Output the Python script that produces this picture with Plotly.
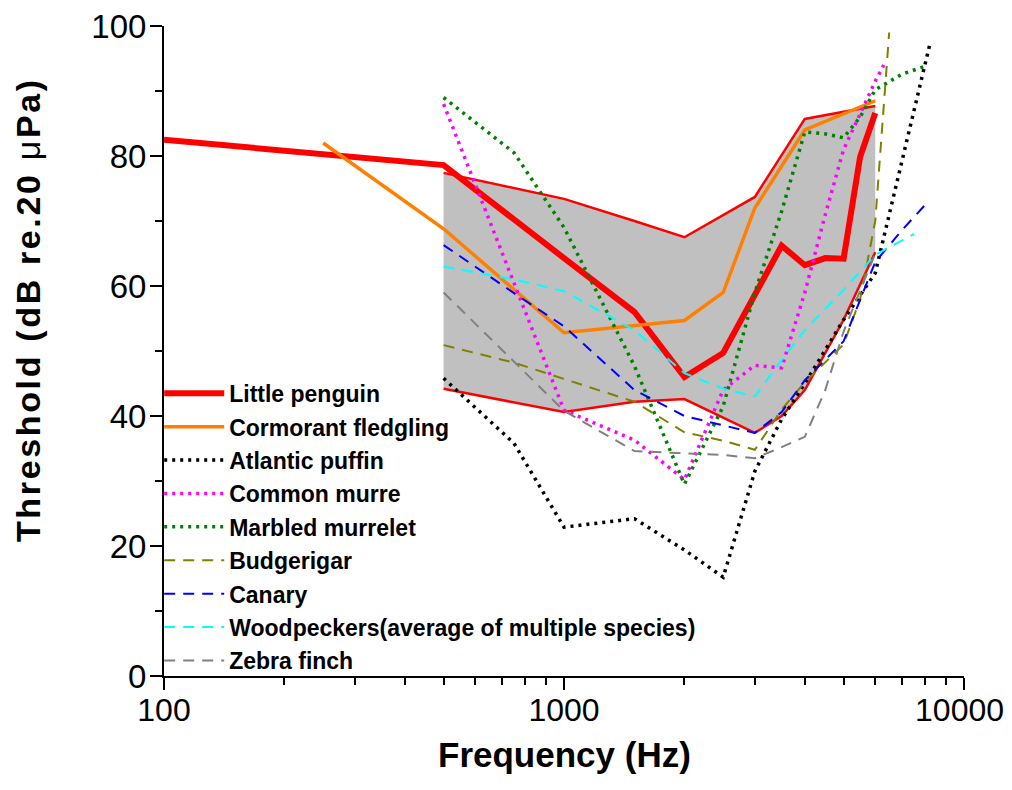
import plotly.graph_objects as go

# ---------------- data ----------------
penguin_f = [100, 500, 1000, 1500, 2000, 2500, 3500, 4000, 4500, 5000, 5500, 6000]
penguin_db = [82.5, 78.6, 64.3, 56.0, 46.0, 49.7, 66.2, 63.2, 64.3, 64.2, 79.9, 86.6]

band_upper_f = [500, 750, 1000, 1500, 2000, 3000, 4000, 5000, 6000]
band_upper_db = [77.4, 75.1, 73.4, 70.0, 67.5, 73.7, 85.7, 86.8, 87.7]
band_lower_f = [500, 1000, 1500, 2000, 3000, 3500, 4000, 4500, 5000, 6000]
band_lower_db = [44.2, 40.6, 42.2, 42.6, 37.4, 40.0, 44.0, 49.8, 54.8, 65.2]

cormorant_f = [250, 500, 1000, 2000, 2500, 3000, 4000, 6000]
cormorant_db = [82.0, 68.8, 52.8, 54.7, 59.0, 72.0, 84.0, 88.5]

puffin_f = [500, 750, 1000, 1500, 2000, 2500, 3000, 3500, 4000, 5000, 6000, 8200]
puffin_db = [45.8, 35.8, 22.9, 24.2, 19.4, 15.2, 31.5, 39.5, 45.0, 54.8, 62.0, 97.0]

murre_f = [500, 750, 1000, 1500, 2000, 2500, 3000, 3500, 4000, 4500, 5000, 6000, 6300]
murre_db = [88.0, 60.3, 40.9, 36.3, 30.2, 44.0, 47.8, 47.4, 59.0, 71.0, 81.0, 91.5, 94.0]

murrelet_f = [500, 750, 1000, 1500, 2000, 2500, 3000, 3500, 4000, 4500, 5000, 5500, 6000, 7000, 8000]
murrelet_db = [89.0, 80.5, 69.0, 47.7, 29.5, 41.5, 59.0, 71.5, 83.7, 83.4, 82.8, 86.0, 90.2, 92.6, 93.8]

budgie_f = [500, 750, 1000, 1500, 2000, 2500, 3000, 3500, 4000, 5000, 5500, 6000, 6500]
budgie_db = [50.9, 48.2, 45.7, 42.2, 37.5, 36.2, 34.8, 41.0, 45.2, 51.0, 58.0, 70.0, 99.0]

canary_f = [500, 750, 1000, 1500, 2000, 2500, 3000, 3500, 4000, 5000, 6000, 7000, 8000]
canary_db = [66.3, 58.9, 53.8, 44.0, 40.0, 38.6, 37.4, 40.6, 45.5, 51.5, 63.7, 68.6, 72.5]

wood_f = [500, 750, 1000, 1500, 2000, 2500, 3000, 3500, 4000, 5000, 6000, 7000, 7500]
wood_db = [63.0, 61.0, 59.2, 53.2, 46.6, 44.2, 43.0, 48.6, 53.2, 59.4, 64.8, 67.1, 68.0]

zebra_f = [500, 750, 1000, 1500, 2000, 2500, 3000, 3500, 4000, 4500, 5000, 6000]
zebra_db = [59.0, 48.3, 40.8, 34.6, 34.3, 34.0, 33.5, 35.2, 36.8, 44.0, 53.0, 65.0]

y_ticks = [0, 20, 40, 60, 80, 100]
x_ticks = [100, 1000, 10000]
x_tick_labels = ["100", "1000", "10000\u00a0"]

FONT = "Arial, Liberation Sans, sans-serif"

fig = go.Figure()

# grey band
fig.add_trace(go.Scatter(
    x=band_upper_f + band_lower_f[::-1],
    y=band_upper_db + band_lower_db[::-1],
    fill="toself", fillcolor="#C0C0C0", mode="lines",
    line=dict(width=0), showlegend=False, hoverinfo="skip"))
fig.add_trace(go.Scatter(x=band_upper_f, y=band_upper_db, mode="lines",
                         line=dict(color="#FF0000", width=2.5), showlegend=False))
fig.add_trace(go.Scatter(x=band_lower_f, y=band_lower_db, mode="lines",
                         line=dict(color="#FF0000", width=2.5), showlegend=False))

DOT = "3px,5px"
DASH = "11px,8px"
series = [
    ("Little penguin", penguin_f, penguin_db, "#FF0000", 6, "solid"),
    ("Cormorant fledgling", cormorant_f, cormorant_db, "#FF8000", 3.5, "solid"),
    ("Atlantic puffin", puffin_f, puffin_db, "#000000", 3.5, DOT),
    ("Common murre", murre_f, murre_db, "#FF00FF", 3.5, DOT),
    ("Marbled murrelet", murrelet_f, murrelet_db, "#008000", 3.5, DOT),
    ("Budgerigar", budgie_f, budgie_db, "#808000", 2, DASH),
    ("Canary", canary_f, canary_db, "#0000FF", 2, DASH),
    ("Woodpeckers(average of multiple species)", wood_f, wood_db, "#00FFFF", 2, DASH),
    ("Zebra finch", zebra_f, zebra_db, "#808080", 2, DASH),
]
for i, (name, xs, ys, col, w, dash) in enumerate(series):
    fig.add_trace(go.Scatter(x=xs, y=ys, mode="lines", name=name,
                             legendgroup=f"g{i}",
                             line=dict(color=col, width=w, dash=dash)))

fig.update_layout(
    width=1004, height=774,
    margin=dict(l=156, r=48, t=18, b=106, autoexpand=False),
    paper_bgcolor="white", plot_bgcolor="white",
    font=dict(family=FONT, color="black"),
    showlegend=True,
    legend=dict(x=-0.006, y=0.468, xanchor="left", yanchor="top",
                bgcolor="rgba(0,0,0,0)", borderwidth=0,
                font=dict(family=FONT, size=23, color="black", weight="bold"),
                itemwidth=60, tracegroupgap=0.5),
    xaxis=dict(type="log", range=[2, 4], showgrid=False, zeroline=False,
               automargin=False, ticklabeloverflow="allow",
               showline=True, linecolor="black", linewidth=2,
               ticks="outside", ticklen=12, tickwidth=2, tickcolor="black",
               tickvals=x_ticks, ticktext=x_tick_labels, ticklabelstandoff=-7,
               tickfont=dict(family=FONT, size=32, color="black"),
               minor=dict(ticks="outside", ticklen=7, tickwidth=2,
                          tickcolor="black", dtick="D1", showgrid=False)),
    yaxis=dict(range=[0, 100], showgrid=False, zeroline=False,
               automargin=False, ticklabeloverflow="allow",
               showline=True, linecolor="black", linewidth=2,
               ticks="outside", ticklen=12, tickwidth=2, tickcolor="black",
               tickvals=y_ticks, ticklabelstandoff=-3,
               tickfont=dict(family=FONT, size=33, color="black"),
               minor=dict(ticks="outside", ticklen=7, tickwidth=2,
                          tickcolor="black", dtick=10, showgrid=False)),
    annotations=[
        dict(text="<b>Frequency (Hz)</b>", xref="paper", yref="paper",
             x=0.5, y=-0.121, xanchor="center", yanchor="middle",
             showarrow=False, font=dict(family=FONT, size=35, color="black")),
        dict(text="<span style='letter-spacing:2.65px'><b>Threshold (dB re.20 </b>μ<b>Pa)</b></span>",
             xref="paper", yref="paper",
             x=-0.17, y=0.563, xanchor="center", yanchor="middle", textangle=-90,
             showarrow=False, font=dict(family=FONT, size=34, color="black")),
    ],
)

fig.write_html("out.html")
